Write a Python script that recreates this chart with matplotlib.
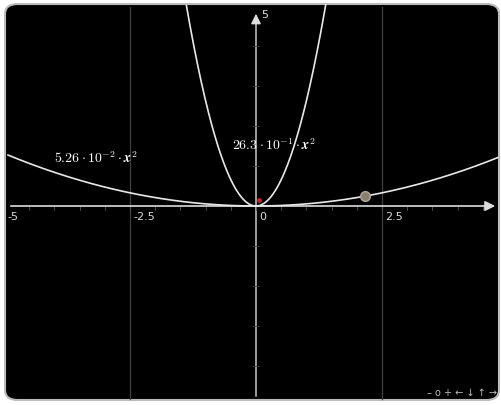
import numpy as np
import matplotlib
matplotlib.use("Agg")
import matplotlib.pyplot as plt
from matplotlib.patches import FancyBboxPatch

plt.rcParams['mathtext.fontset'] = 'cm'

# curves y = a * x^2
coefs = [5.26e-2, 26.3e-1]
curve_labels = [r"$\mathbf{5.26}\cdot\mathbf{10}^{-2}\cdot\boldsymbol{x}^{2}$",
                r"$\mathbf{26.3}\cdot\mathbf{10}^{-1}\cdot\boldsymbol{x}^{2}$"]
label_pos = [(-4.0, 1.22), (-0.48, 1.55)]

# glider point on the first curve, small red point near origin
glider_x = 2.16
red_pt = (0.05, 0.15)

xtick_vals = [-5, -2.5, 0, 2.5]
xtick_labels = ["-5", "-2.5", "0", "2.5"]
ytick_top = 5
grid_x = [-2.5, 2.5]

W, H = 502, 406
fig = plt.figure(figsize=(W / 100, H / 100), dpi=100)
fig.patch.set_facecolor("white")

ax = fig.add_axes([0, 0, 1, 1])
ax.set_facecolor("none")
for s in ax.spines.values():
    s.set_visible(False)
ax.set_xticks([])
ax.set_yticks([])

# board frame
board = FancyBboxPatch((5 / W, 5 / H), 494 / W, 396 / H,
                       boxstyle="round,pad=0,rounding_size=0.025",
                       transform=fig.transFigure, facecolor="black",
                       edgecolor="#bbbbbb", linewidth=1.5, zorder=0, clip_on=False)
ax.add_patch(board)

# pixel mapping: x=0 at px 256, 50.4 px per unit; y=0 at px 207, 40 px per unit
x0, ux = 256, 50.4
y0, uy = 207, 40
ax.set_xlim((0 - x0) / ux, (W - x0) / ux)
ax.set_ylim((y0 - H) / uy, y0 / uy)

xmin, xmax = (8 - x0) / ux, (498 - x0) / ux
ymin, ymax = (y0 - 400) / uy, (y0 - 12) / uy

# grid
for gx in grid_x:
    ax.plot([gx, gx], [ymin, (y0 - 8) / uy], color="#404040", lw=0.9, zorder=1)

# axes with arrows
ax.annotate("", xy=(xmax, 0), xytext=(xmin, 0),
            arrowprops=dict(arrowstyle="-|>,head_length=0.6,head_width=0.3", color="#dddddd", lw=1.2), zorder=2)
ax.annotate("", xy=(0, ymax), xytext=(0, ymin),
            arrowprops=dict(arrowstyle="-|>,head_length=0.6,head_width=0.3", color="#dddddd", lw=1.0), zorder=2)

# minor ticks
for t in np.arange(-4.5, 4.6, 0.5):
    ax.plot([t, t], [-0.02, -0.1], color="#555555", lw=0.6, zorder=2)
for t in range(-4, 5):
    if t != 0:
        ax.plot([-0.05, 0.05], [t, t], color="#444444", lw=0.6, zorder=2)

# tick labels
for v, lab in zip(xtick_vals, xtick_labels):
    ax.text(v + 0.06, -0.12, lab, color="#dddddd", fontsize=8, ha="left", va="top", zorder=3)
ax.text(0.1, (y0 - 15) / uy, str(ytick_top), color="#dddddd", fontsize=8, ha="left", va="center", zorder=3)

# curves
xs = np.linspace(xmin, xmax, 800)
for a in coefs:
    ys = a * xs ** 2
    ys = np.where(ys > (y0 - 4) / uy, np.nan, ys)
    ax.plot(xs, ys, color="#e8e8e8", lw=1.2, zorder=4)

for lab, (lx, ly) in zip(curve_labels, label_pos):
    ax.text(lx, ly, lab, color="white", fontsize=10, ha="left", va="center", zorder=5)

ax.plot([glider_x], [coefs[0] * glider_x ** 2], "o", ms=7, color="#8a8070",
        markeredgecolor="#b0a898", zorder=6)
ax.plot([red_pt[0]], [red_pt[1]], "o", ms=2.5, color="#cc2222", zorder=6)

# navigation bar
ax.text((497 - x0) / ux, (y0 - 393) / uy, "\u2013 o + \u2190 \u2193 \u2191 \u2192",
        color="#bbbbbb", fontsize=7, ha="right", va="center", zorder=6)

fig.savefig("out.png", dpi=100, facecolor="white")
